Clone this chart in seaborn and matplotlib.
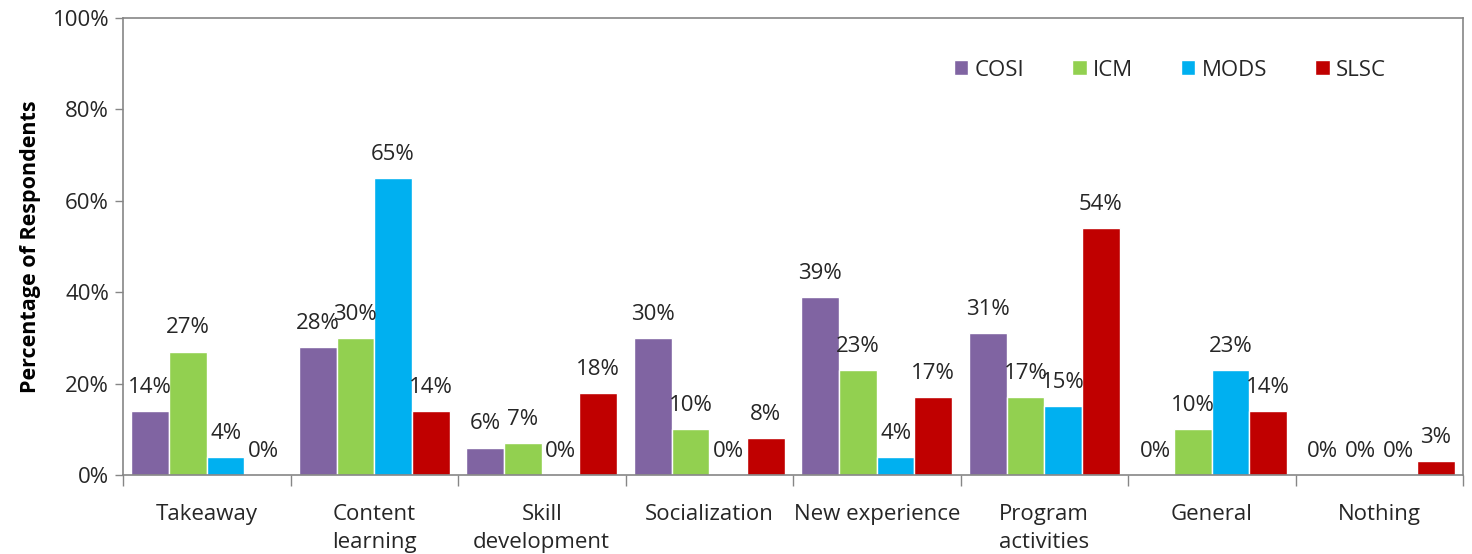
import matplotlib
matplotlib.use("Agg")
import matplotlib.pyplot as plt
import seaborn as sns
import pandas as pd

categories = ["Takeaway", "Content\nlearning", "Skill\ndevelopment", "Socialization",
              "New experience", "Program\nactivities", "General", "Nothing"]
series_names = ["COSI", "ICM", "MODS", "SLSC"]
cosi = [14, 28, 6, 30, 39, 31, 0, 0]
icm = [27, 30, 7, 10, 23, 17, 10, 0]
mods = [4, 65, 0, 0, 4, 15, 23, 0]
slsc = [0, 14, 18, 8, 17, 54, 14, 3]
y_ticks = [0, 20, 40, 60, 80, 100]
y_tick_labels = ["0%", "20%", "40%", "60%", "80%", "100%"]
colors = ["#8064A2", "#92D050", "#00B0F0", "#C00000"]

sns.set_theme(style="white")
plt.rcParams["font.family"] = ["Open Sans", "DejaVu Sans"]

rows = []
for name, vals in zip(series_names, [cosi, icm, mods, slsc]):
    for c, v in zip(categories, vals):
        rows.append({"Category": c, "Series": name, "Value": v})
df = pd.DataFrame(rows)

fig = plt.figure(figsize=(14.72, 5.54), dpi=100)
ax = fig.add_axes([123 / 1472, 1 - 475 / 554, (1463 - 123) / 1472, (475 - 18) / 554])

sns.barplot(data=df, x="Category", y="Value", hue="Series", order=categories,
            hue_order=series_names, palette=colors, width=0.9, gap=0,
            saturation=1, ax=ax, errorbar=None, legend=True)

text_color = "#262626"
for cont in ax.containers:
    for bar in cont:
        h = bar.get_height()
        ax.annotate(f"{h:.0f}%", (bar.get_x() + bar.get_width() / 2, h),
                    xytext=(0, 17), textcoords="offset points",
                    ha="center", va="center", fontsize=16, color=text_color)

ax.set_ylim(0, 100)
ax.set_xlim(-0.5, len(categories) - 0.5)
ax.set_yticks(y_ticks)
ax.set_yticklabels(y_tick_labels, fontsize=16, color=text_color)
ax.tick_params(axis="y", which="major", left=True, length=6, width=1, color="#868686", pad=4)

ax.set_xticks(range(len(categories)))
ax.set_xticklabels(categories, fontsize=16, color=text_color, linespacing=1.45)
ax.tick_params(axis="x", which="major", bottom=True, length=0, pad=21)
ax.set_xticks([i - 0.5 for i in range(len(categories) + 1)], minor=True)
ax.tick_params(axis="x", which="minor", bottom=True, length=8, width=1, color="#868686")
for lbl in ax.get_xticklabels():
    lbl.set_verticalalignment("top")

for s in ax.spines.values():
    s.set_visible(True)
    s.set_color("#868686")
    s.set_linewidth(1.2)

ax.set_xlabel("")
ax.set_ylabel("Percentage of Respondents", fontsize=15.5, fontweight="bold",
              color="black", labelpad=8)

handles, labels = ax.get_legend_handles_labels()
ax.legend(handles, labels, ncol=4, frameon=False, loc="center left",
          bbox_to_anchor=(954 / 1472, 1 - 70 / 554), bbox_transform=fig.transFigure,
          fontsize=16, handlelength=0.64, handleheight=0.64, handletextpad=0.3,
          columnspacing=2.15, labelcolor=text_color, borderaxespad=0, borderpad=0)

fig.savefig("out.png", dpi=100)
